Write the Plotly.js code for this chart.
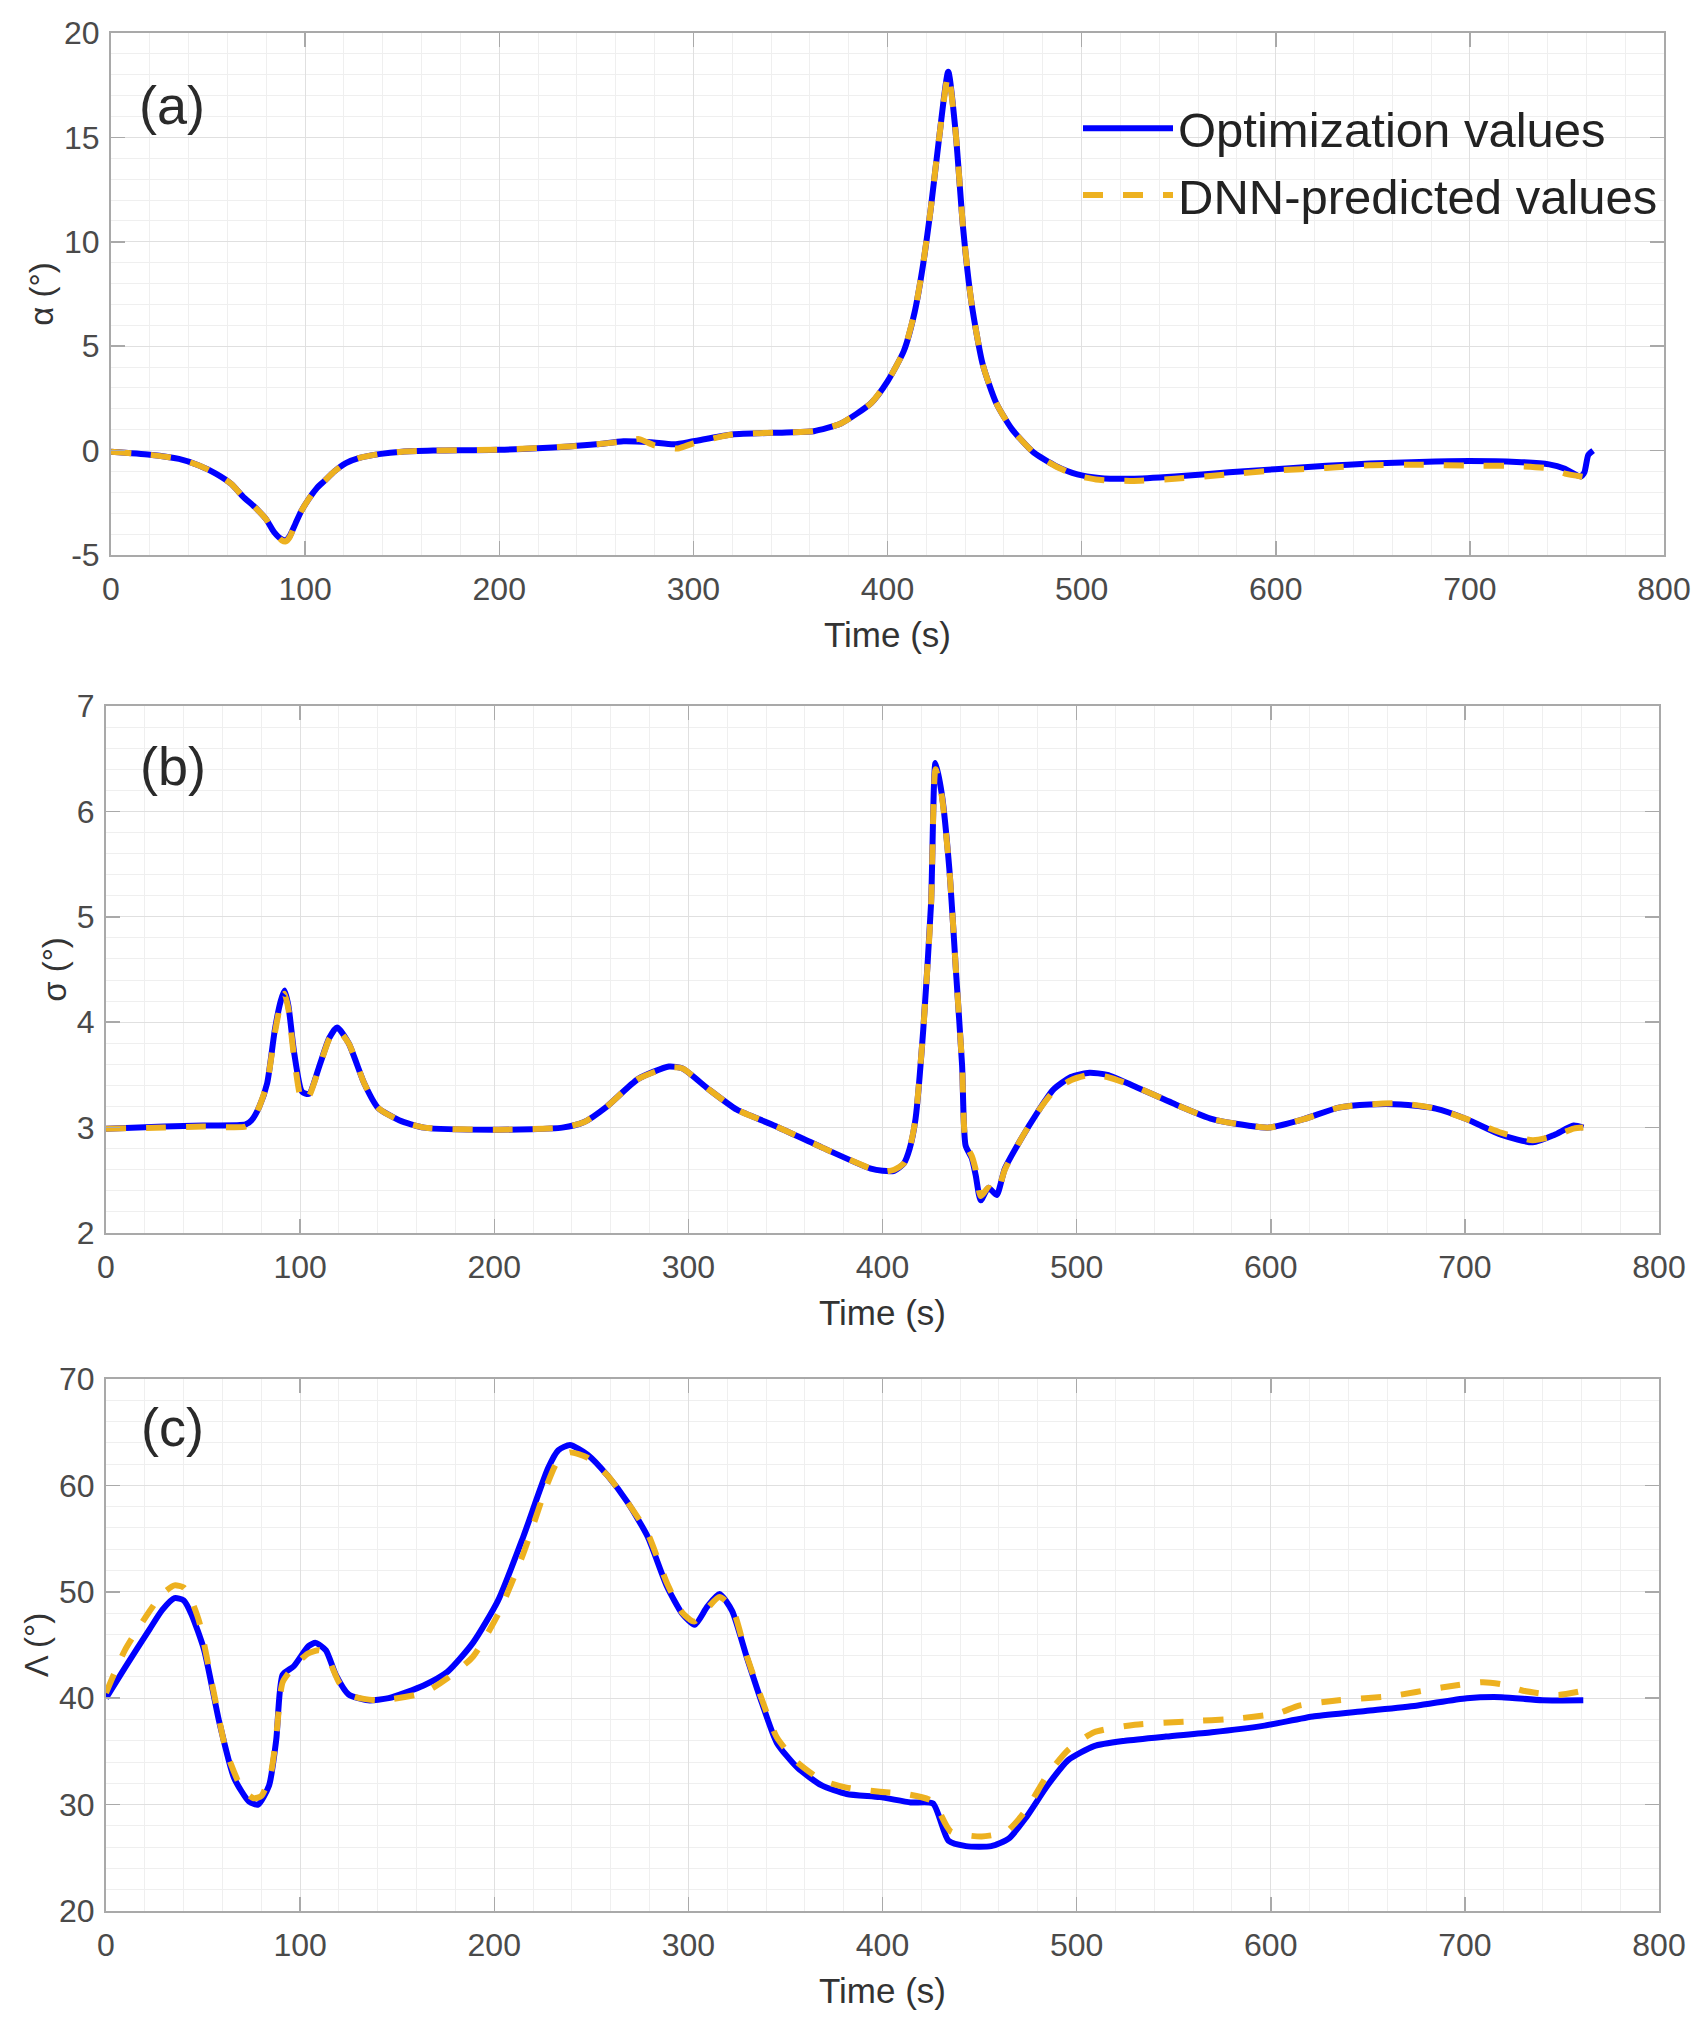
<!DOCTYPE html>
<html>
<head>
<meta charset="utf-8">
<script src="https://cdn.plot.ly/plotly-3.0.1.min.js"></script>
<style>
  html, body { margin: 0; padding: 0; background: #ffffff; }
  #chart { width: 1701px; height: 2036px; }
</style>
</head>
<body>
<div id="chart"></div>
<script>
// ---------------- Data ----------------
// Panel (a): angle of attack alpha (deg)
const alphaOptTime = [0, 20, 35, 45, 54, 62, 68, 74, 80, 84, 88, 90, 92, 95, 98, 102, 106, 110, 115, 121, 128, 138, 150, 166, 200, 236, 250, 264, 278, 290, 300, 320, 348, 362, 376, 391.6, 400, 408.4, 414, 418, 422.3, 426.5, 431.3, 435, 439, 443.3, 449, 456, 464, 475.4, 486.6, 497.8, 509, 525.7, 548, 576, 599.7, 626, 648.6, 674, 699.7, 724, 740.8, 749, 757, 759, 761, 763.5];
const alphaOpt     = [-0.06, -0.2, -0.4, -0.7, -1.1, -1.6, -2.2, -2.7, -3.3, -3.9, -4.25, -4.3, -4.1, -3.5, -2.9, -2.3, -1.8, -1.45, -1.0, -0.6, -0.35, -0.17, -0.05, 0.0, 0.04, 0.2, 0.3, 0.45, 0.4, 0.3, 0.45, 0.77, 0.87, 0.93, 1.3, 2.28, 3.32, 4.77, 6.64, 8.71, 11.6, 14.9, 18.15, 15.35, 10.6, 7.05, 4.15, 2.28, 1.04, -0.1, -0.73, -1.14, -1.31, -1.35, -1.24, -1.04, -0.89, -0.73, -0.62, -0.54, -0.5, -0.54, -0.66, -0.87, -1.24, -1.04, -0.21, 0.0];

const alphaDnnTime = [0, 20, 35, 45, 54, 62, 68, 74, 80, 84, 88, 90, 92, 95, 98, 102, 106, 110, 115, 121, 128, 138, 150, 166, 200, 236, 250, 265, 272, 280, 292, 300, 320, 348, 362, 376, 391.6, 400, 408.4, 414, 418, 422.3, 426.5, 431.3, 435, 439, 443.3, 449, 456, 464, 475.4, 486.6, 497.8, 509, 525.7, 548, 576, 599.7, 626, 648.6, 674, 699.7, 724, 740.8, 749, 758];
const alphaDnn     = [-0.06, -0.2, -0.4, -0.7, -1.1, -1.6, -2.2, -2.7, -3.3, -3.9, -4.3, -4.35, -4.15, -3.5, -2.9, -2.3, -1.8, -1.45, -1.0, -0.6, -0.35, -0.17, -0.05, 0.0, 0.04, 0.2, 0.3, 0.45, 0.55, 0.25, 0.1, 0.35, 0.77, 0.87, 0.93, 1.3, 2.28, 3.32, 4.77, 6.64, 8.71, 11.6, 14.9, 18.0, 15.35, 10.6, 7.05, 4.15, 2.28, 1.04, -0.1, -0.75, -1.2, -1.4, -1.45, -1.35, -1.14, -0.95, -0.83, -0.7, -0.68, -0.72, -0.74, -0.85, -1.1, -1.25];

// Panel (b): bank angle sigma (deg)
const sigmaOptTime = [0, 30, 50, 72, 75, 79, 83, 87, 90, 92, 94, 97, 101, 104.6, 110, 115, 119, 125, 133, 140, 151, 164, 202, 235, 246, 258, 274, 290, 297, 310, 325, 343, 369, 394, 400, 406, 411, 414, 417, 421, 425, 427.3, 430.5, 434.4, 438, 441, 442.8, 446, 448, 450.6, 454.6, 458.8, 463, 471, 480, 488, 497, 506.6, 515.8, 530, 551, 570, 588, 599, 617, 635, 651, 667, 685, 701, 719, 735, 746, 756, 761];
const sigmaOpt     = [2.99, 3.01, 3.02, 3.03, 3.07, 3.2, 3.42, 3.93, 4.2, 4.3, 4.15, 3.7, 3.34, 3.32, 3.59, 3.85, 3.95, 3.8, 3.42, 3.19, 3.07, 3.0, 2.98, 3.0, 3.05, 3.2, 3.46, 3.58, 3.56, 3.37, 3.17, 3.03, 2.81, 2.61, 2.59, 2.59, 2.66, 2.8, 3.08, 3.93, 5.12, 6.46, 6.17, 5.46, 4.44, 3.59, 2.83, 2.71, 2.55, 2.31, 2.43, 2.36, 2.61, 2.88, 3.15, 3.36, 3.48, 3.52, 3.5, 3.39, 3.22, 3.08, 3.02, 3.0, 3.08, 3.19, 3.22, 3.22, 3.18, 3.08, 2.93, 2.86, 2.93, 3.02, 3.0];

const sigmaDnnTime = [0, 30, 50, 72, 75, 79, 83, 87, 90, 92, 94, 97, 101, 104.6, 110, 115, 119, 125, 133, 140, 151, 164, 202, 235, 246, 258, 274, 290, 297, 310, 325, 343, 369, 394, 400, 406, 411, 414, 417, 421, 425, 427.3, 430.5, 434.4, 438, 441, 442.8, 446, 448, 450.6, 454.6, 458.8, 463, 471, 480, 488, 497, 506.6, 515.8, 530, 551, 570, 588, 599, 617, 635, 651, 667, 685, 701, 719, 735, 746, 756, 761];
const sigmaDnn     = [2.99, 3.0, 3.01, 3.01, 3.06, 3.2, 3.42, 3.9, 4.18, 4.27, 4.12, 3.65, 3.25, 3.3, 3.58, 3.84, 3.93, 3.8, 3.42, 3.19, 3.07, 3.0, 2.98, 3.0, 3.05, 3.2, 3.46, 3.57, 3.56, 3.37, 3.17, 3.03, 2.81, 2.61, 2.58, 2.6, 2.66, 2.8, 3.08, 3.93, 5.1, 6.4, 6.15, 5.46, 4.44, 3.59, 2.85, 2.73, 2.6, 2.35, 2.43, 2.38, 2.6, 2.88, 3.15, 3.34, 3.45, 3.5, 3.48, 3.39, 3.22, 3.08, 3.02, 3.0, 3.08, 3.19, 3.22, 3.23, 3.18, 3.08, 2.95, 2.88, 2.92, 2.99, 3.0];

// Panel (c): Lambda (deg)
const lambdaOptTime = [0, 9.7, 22.5, 29, 35.3, 40, 44, 50.6, 58.3, 66, 73.6, 78.3, 84, 87.7, 91, 96.7, 104.3, 108, 113.3, 118.4, 125, 135, 145.6, 163.6, 176, 189, 202, 215, 227.7, 233, 239, 248, 258.5, 268.7, 279, 289, 297, 303.3, 309.7, 316, 322.5, 330, 338, 345.6, 356, 368.7, 381.5, 398.7, 414.5, 426, 434, 443, 456, 465, 474, 485, 495.8, 509, 525, 546, 569.6, 596, 622.5, 648.8, 675, 701, 719, 740, 761];
const lambdaOpt     = [40, 42.85, 46.5, 48.3, 49.4, 49.2, 47.9, 44.5, 37.8, 32.5, 30.3, 30, 31.8, 36.1, 42.2, 43.0, 44.9, 45.2, 44.5, 42.2, 40.35, 39.8, 40, 41.2, 42.5, 45.2, 49.2, 55.2, 61.6, 63.3, 63.8, 62.9, 60.9, 58.4, 55.2, 50.5, 47.9, 46.9, 48.6, 49.8, 48.2, 43.9, 39.5, 35.8, 33.5, 31.8, 31.0, 30.7, 30.2, 30.1, 26.6, 26.1, 26.1, 26.8, 28.8, 31.8, 34.2, 35.5, 36.0, 36.4, 36.8, 37.4, 38.3, 38.8, 39.3, 40.0, 40.1, 39.8, 39.8];

const lambdaDnnTime = [0, 9.7, 22.5, 29, 35.3, 40, 44, 48, 55, 62, 70, 76, 80, 85, 88, 91, 97, 104, 110, 115, 120, 127, 140, 163.6, 176, 189, 202, 215, 227.7, 233, 239, 248, 258.5, 268.7, 279, 289, 297, 303, 310, 316, 322.5, 330, 338, 345.6, 356, 368.7, 381.5, 398.7, 412, 426, 435, 451, 464, 474, 485, 496, 509, 530, 556, 583, 604, 614.5, 635, 662, 688, 709, 719, 730, 748, 761];
const lambdaDnn     = [40.5, 44.5, 48.2, 49.8, 50.6, 50.4, 49.2, 47.2, 41, 35, 31.5, 30.6, 30.8, 33, 37, 41.5, 43.0, 44.2, 44.5, 43.5, 41.5, 40.2, 39.8, 40.5, 41.9, 43.9, 47.9, 53.6, 60.3, 62.4, 63.1, 62.6, 60.9, 58.4, 55.5, 50.8, 48.0, 47.2, 48.5, 49.5, 48.5, 44.0, 39.8, 36.3, 34.0, 32.3, 31.6, 31.2, 31.0, 30.3, 27.5, 27.0, 27.5, 29.5, 32.8, 35.2, 36.8, 37.5, 37.8, 38.1, 38.6, 39.3, 39.8, 40.2, 41.0, 41.5, 41.3, 40.7, 40.3, 40.7];

// Tick labels
const timeTickVals  = [0, 100, 200, 300, 400, 500, 600, 700, 800];
const timeTickText  = ['0', '100', '200', '300', '400', '500', '600', '700', '800'];
const alphaTickVals = [-5, 0, 5, 10, 15, 20];
const alphaTickText = ['-5', '0', '5', '10', '15', '20'];
const sigmaTickVals = [2, 3, 4, 5, 6, 7];
const sigmaTickText = ['2', '3', '4', '5', '6', '7'];
const lambdaTickVals = [20, 30, 40, 50, 60, 70];
const lambdaTickText = ['20', '30', '40', '50', '60', '70'];

const seriesNames = ['Optimization values', 'DNN-predicted values'];
const panelLabels = ['(a)', '(b)', '(c)'];
const yTitles = ['α (°)', 'σ (°)', 'Λ (°)'];
const xTitle = 'Time (s)';

// ---------------- Styling ----------------
const FONT = 'Liberation Sans, Arial, Helvetica, sans-serif';
const AX_COLOR = '#a9a9a9';
const GRID = '#e0e0e0';
const MINOR = '#efefef';
const TICK_TXT = '#4a4a4a';
const BLUE = '#0000ff';
const ORANGE = '#edb120';
const W = 1701, H = 2036;

function px2paperY(py) { return 1 - py / H; }

function xAxis(left, right, anchor) {
  return {
    domain: [left / W, right / W], anchor: anchor, range: [0, 800],
    tickmode: 'array', tickvals: timeTickVals, ticktext: timeTickText,
    ticks: 'inside', ticklen: 14, tickwidth: 1.5, tickcolor: AX_COLOR,
    showline: true, linecolor: AX_COLOR, linewidth: 2, mirror: 'ticks',
    showgrid: true, gridcolor: GRID, gridwidth: 1, zeroline: false,
    minor: { tickmode: 'linear', tick0: 0, dtick: 20, showgrid: true, gridcolor: MINOR, gridwidth: 1 },
    tickfont: { family: FONT, size: 32, color: TICK_TXT },
    ticklabelstandoff: 5,
    title: { text: xTitle, font: { family: FONT, size: 35, color: '#333333' }, standoff: 16 },
    automargin: false, fixedrange: true
  };
}
function yAxis(top, bottom, anchor, range, vals, text, minorDt, title) {
  return {
    domain: [px2paperY(bottom), px2paperY(top)], anchor: anchor, range: range,
    tickmode: 'array', tickvals: vals, ticktext: text,
    ticks: 'inside', ticklen: 14, tickwidth: 1.5, tickcolor: AX_COLOR,
    showline: true, linecolor: AX_COLOR, linewidth: 2, mirror: 'ticks',
    showgrid: true, gridcolor: GRID, gridwidth: 1, zeroline: false,
    minor: { tickmode: 'linear', tick0: range[0], dtick: minorDt, showgrid: true, gridcolor: MINOR, gridwidth: 1 },
    tickfont: { family: FONT, size: 32, color: TICK_TXT },
    ticklabelstandoff: 3,
    title: { text: title, font: { family: FONT, size: 33, color: '#333333' }, standoff: 0 },
    automargin: false, fixedrange: true
  };
}

const optLine = { color: BLUE, width: 6, shape: 'spline', smoothing: 0.6 };
const dnnLine = { color: ORANGE, width: 6, dash: '20px,20px', shape: 'spline', smoothing: 0.6 };

const traces = [
  { x: alphaOptTime, y: alphaOpt, xaxis: 'x', yaxis: 'y', type: 'scatter', mode: 'lines', name: seriesNames[0], line: optLine, legendgroup: 'opt' },
  { x: alphaDnnTime, y: alphaDnn, xaxis: 'x', yaxis: 'y', type: 'scatter', mode: 'lines', name: seriesNames[1], line: dnnLine, legendgroup: 'dnn' },
  { x: sigmaOptTime, y: sigmaOpt, xaxis: 'x2', yaxis: 'y2', type: 'scatter', mode: 'lines', name: seriesNames[0], line: optLine, showlegend: false, legendgroup: 'opt' },
  { x: sigmaDnnTime, y: sigmaDnn, xaxis: 'x2', yaxis: 'y2', type: 'scatter', mode: 'lines', name: seriesNames[1], line: dnnLine, showlegend: false, legendgroup: 'dnn' },
  { x: lambdaOptTime, y: lambdaOpt, xaxis: 'x3', yaxis: 'y3', type: 'scatter', mode: 'lines', name: seriesNames[0], line: optLine, showlegend: false, legendgroup: 'opt' },
  { x: lambdaDnnTime, y: lambdaDnn, xaxis: 'x3', yaxis: 'y3', type: 'scatter', mode: 'lines', name: seriesNames[1], line: dnnLine, showlegend: false, legendgroup: 'dnn' }
];

const labelPos = [
  { xref: 'x domain', yref: 'y domain', x: 0.0393, y: 0.862 },
  { xref: 'x2 domain', yref: 'y2 domain', x: 0.0431, y: 0.886 },
  { xref: 'x3 domain', yref: 'y3 domain', x: 0.0425, y: 0.910 }
];
const annotations = panelLabels.map((t, i) => Object.assign({
  text: t, showarrow: false, xanchor: 'center', yanchor: 'middle',
  font: { family: FONT, size: 54, color: '#2a2a2a' }
}, labelPos[i]));

const layout = {
  width: W, height: H,
  margin: { l: 0, r: 0, t: 0, b: 0, pad: 0 },
  paper_bgcolor: '#ffffff', plot_bgcolor: '#ffffff',
  font: { family: FONT, color: '#333333' },
  showlegend: true,
  legend: {
    x: 1078 / W, y: px2paperY(90), xanchor: 'left', yanchor: 'top',
    bgcolor: 'rgba(255,255,255,0)', borderwidth: 0,
    font: { family: FONT, size: 49, color: '#222222' },
    itemwidth: 90, tracegroupgap: 0
  },
  xaxis: xAxis(111, 1664, 'y'),
  yaxis: yAxis(33, 555, 'x', [-5, 20], alphaTickVals, alphaTickText, 1, yTitles[0]),
  xaxis2: xAxis(106, 1659, 'y2'),
  yaxis2: yAxis(706, 1233, 'x2', [2, 7], sigmaTickVals, sigmaTickText, 0.2, yTitles[1]),
  xaxis3: xAxis(106, 1659, 'y3'),
  yaxis3: yAxis(1379, 1911, 'x3', [20, 70], lambdaTickVals, lambdaTickText, 2, yTitles[2]),
  annotations: annotations
};

Plotly.newPlot('chart', traces, layout, { displayModeBar: false, staticPlot: true });
</script>
</body>
</html>
